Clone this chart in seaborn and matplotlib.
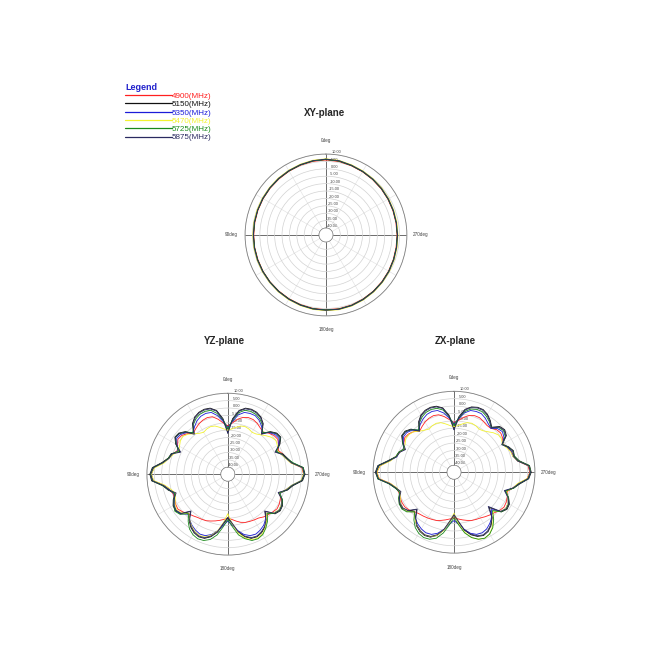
import numpy as np
import pandas as pd
import matplotlib
matplotlib.use("Agg")
import matplotlib.pyplot as plt
import seaborn as sns

# ----------------------------
# Data (gain in dBi)
# ----------------------------
freqs = ["4900(MHz)", "5150(MHz)", "5350(MHz)", "5470(MHz)", "5725(MHz)", "5875(MHz)"]
colors = ["#ff2020", "#111111", "#1c1cd8", "#f2f230", "#1a8a1a", "#2a2a60"]

xy_angles = list(range(0, 360, 10))
xy_4900 = [6.0, 5.8, 5.5, 5.1, 4.7, 4.5, 4.3, 4.2, 4.1, 4.1, 4.2, 4.2, 4.4, 4.6, 4.8, 5.1, 5.4, 5.7,
           5.8, 5.9, 5.7, 5.3, 4.9, 4.5, 4.1, 3.7, 3.4, 3.3, 3.3, 3.4, 3.6, 3.9, 4.2, 4.6, 5.1, 5.7]
xy_5150 = [6.4, 6.2, 5.8, 5.4, 5.1, 4.8, 4.6, 4.5, 4.4, 4.4, 4.4, 4.5, 4.6, 4.8, 5.1, 5.4, 5.7, 6.0,
           6.1, 6.2, 6.0, 5.6, 5.2, 4.8, 4.4, 4.0, 3.7, 3.6, 3.6, 3.7, 3.9, 4.2, 4.5, 4.9, 5.4, 6.1]
xy_5350 = [6.5, 6.3, 5.9, 5.6, 5.2, 4.9, 4.7, 4.6, 4.6, 4.6, 4.6, 4.7, 4.8, 5.0, 5.2, 5.5, 5.8, 6.1,
           6.2, 6.3, 6.1, 5.7, 5.3, 4.9, 4.5, 4.1, 3.8, 3.7, 3.7, 3.8, 4.0, 4.3, 4.6, 5.0, 5.5, 6.2]
xy_5470 = [6.8, 6.6, 6.2, 5.8, 5.5, 5.2, 5.0, 4.9, 4.8, 4.8, 4.8, 4.9, 5.0, 5.2, 5.5, 5.8, 6.1, 6.4,
           6.5, 6.6, 6.4, 6.0, 5.6, 5.2, 4.8, 4.4, 4.1, 4.0, 4.0, 4.1, 4.3, 4.6, 4.9, 5.3, 5.8, 6.5]
xy_5725 = [6.3, 6.1, 5.7, 5.3, 5.0, 4.7, 4.5, 4.4, 4.3, 4.3, 4.3, 4.4, 4.5, 4.7, 5.0, 5.3, 5.6, 5.9,
           6.0, 6.1, 5.9, 5.5, 5.1, 4.7, 4.3, 3.9, 3.6, 3.5, 3.5, 3.6, 3.8, 4.1, 4.4, 4.8, 5.3, 6.0]
xy_5875 = [6.6, 6.3, 5.9, 5.5, 5.2, 4.9, 4.7, 4.5, 4.5, 4.4, 4.5, 4.6, 4.7, 4.9, 5.2, 5.5, 5.8, 6.1,
           6.2, 6.3, 6.1, 5.7, 5.3, 4.9, 4.5, 4.1, 3.8, 3.7, 3.6, 3.8, 4.0, 4.3, 4.6, 5.0, 5.5, 6.3]

pat_angles = list(range(0, 360, 5))
yz_4900 = [-12, -10, -7, -4.5, -4, -4.5, -5.5, -7, -8.5, -6, -4, -3.5, -5.5, -7, -5, -3, 0, 5.5,
           7, 6, -1, -4, -5.5, -5, -4, -3.5, -5, -7, -8, -9, -9.5, -10, -11, -12, -13, -14,
           -15, -14, -12.5, -11, -10, -9.5, -9, -8.5, -7, -6, -5, -4, -4.5, -5.5, -7, -4, -0.5, 5.5,
           6.5, 5.5, -1, -3.5, -5, -7, -5, -3.5, -4, -5.5, -7.5, -6.5, -5, -4, -4, -5, -7, -10]
yz_5150 = [-16, -7, -1, 1.5, 2, 1.5, 0, -3, -9, -4, -1.5, -1, -4, -9, -4, -3, 0.5, 6.5,
           8, 7, 0, -3, -7, -4, -2, -1.5, -3, -9, -4, -1, 1, 2, 1.5, -1, -5, -11,
           -15, -11, -5, -1, 1.5, 2, 1, -1, -4, -9, -3, -1.5, -2, -4, -8, -3, 0, 6,
           7.5, 6.5, -0.5, -3, -5, -9, -4, -1, -1.5, -4, -9, -3, 0, 1.5, 2, 1.5, -1, -7]
yz_5350 = [-13, -9, -4.5, -1.5, -1, -1.5, -3, -5.5, -8, -5, -3, -2.5, -5, -7.5, -5, -3.5, -0.5, 5.5,
           7, 6, -1, -4, -6, -5, -3, -2, -3, -6.5, -4.5, -2.5, -1, 0, -0.5, -2.5, -6, -10,
           -13, -10, -6, -2.5, -0.5, 0, -1, -2.5, -5, -7.5, -4, -2.5, -3, -4.5, -7, -4, -1, 5,
           7, 6, -1, -4, -6, -8, -5, -2.5, -3, -5, -8, -5, -2.5, -1, -1, -1.5, -4, -9]
yz_5470 = [-15, -14, -12.5, -11, -10.5, -11, -12, -11, -9, -6.5, -5, -5.5, -7, -8, -5.5, -3.5, -1, 5,
           7, 5.5, -1.5, -5, -7, -5.5, -3.5, -2.5, -4, -7, -4.5, -2, 0, 1, 0.5, -2, -6, -12,
           -18, -11, -4.5, 0, 2.5, 3, 2, -0.5, -4, -7.5, -4, -2.5, -3, -4.5, -7.5, -4, -1, 5,
           6.5, 6, -1.5, -4, -6, -7.5, -6, -5, -6, -8, -10, -11.5, -12, -11, -10.5, -11, -12.5, -14]
yz_5725 = [-14, -8, -3, 0, 0.5, 0, -1.5, -4, -8, -4.5, -2, -1.5, -4.5, -8, -4.5, -3, 0, 6,
           7.5, 6.5, 0, -3.5, -6.5, -4.5, -2.5, -1, -2.5, -7, -3, 0.5, 2.5, 3.5, 3, 1, -3, -9,
           -14, -9, -3, 0.5, 3, 3.5, 2.5, 0, -3, -7, -3.5, -2, -2.5, -4, -7.5, -3.5, -0.5, 5.5,
           7, 6.5, 0, -3.5, -5.5, -8.5, -4.5, -1.5, -2, -4.5, -8, -4, -1.5, 0, 0.5, 0, -2.5, -8]
yz_5875 = [-17, -8, -1.5, 1, 1.5, 1, -0.5, -3.5, -9.5, -4.5, -2, -1.5, -4.5, -9.5, -4.5, -3.5, 0, 6,
           7.5, 6.5, -0.5, -3.5, -7.5, -4.5, -2.5, -2, -3.5, -9.5, -4.5, -1.5, 0.5, 1.5, 1, -1.5, -5.5, -11.5,
           -15.5, -11.5, -5.5, -1.5, 1, 1.5, 0.5, -1.5, -4.5, -9.5, -3.5, -2, -2.5, -4.5, -8.5, -3.5, -0.5, 5.5,
           7, 6, -1, -3.5, -5.5, -9.5, -4.5, -1.5, -2, -4.5, -9.5, -3.5, -0.5, 1, 1.5, 1, -1.5, -7.5]

zx_4900 = [-11, -9, -6.5, -4.5, -4, -4.5, -5.5, -7, -8.5, -6, -4.5, -4, -5.5, -7, -5.5, -4, -0.5, 5.5,
           7.5, 6, -1, -4, -5, -4.5, -4, -4, -5, -7, -8, -8.5, -9, -9.5, -10, -11, -12, -13,
           -14, -13, -12, -11, -10, -9.5, -9, -8, -7, -6, -4.5, -3.5, -4, -5, -6.5, -3.5, -0.5, 5,
           6.5, 5.5, -1, -3, -3.5, -5, -6.5, -4.5, -3.5, -4, -6, -6, -5, -4, -4, -5, -7, -9.5]
zx_5150 = [-15, -6, -0.5, 1.5, 2, 1.5, 0, -3, -8, -3.5, -1.5, -1.5, -4.5, -8, -5, -4, 0.5, 7,
           8.5, 7, 0, -3.5, -6, -3.5, -2, -2, -4, -9, -4, -0.5, 1.5, 2.5, 2, -0.5, -5, -11,
           -16, -11, -5, -1, 1.5, 2.5, 1.5, -1, -4.5, -11, -3, -1, -1.5, -4, -8, -3, 0.5, 6,
           7.5, 6.5, 0, -2.5, -2, -4, -7, -1.5, 0, -1, -5, -2, 0.5, 2, 2, 1, -1.5, -7]
zx_5350 = [-12, -8, -4, -1.5, -1, -1.5, -3, -5, -7.5, -4.5, -3, -3, -5, -7, -5.5, -4.5, -0.5, 6,
           8, 6.5, -0.5, -4, -5.5, -4, -3, -2.5, -3.5, -6.5, -4, -2, -0.5, 0.5, 0, -2, -5.5, -9.5,
           -12, -9.5, -5.5, -2, 0, 0.5, -0.5, -2.5, -5, -9, -3.5, -2, -2.5, -4.5, -7.5, -3.5, -0.5, 5.5,
           7, 6, -1, -3.5, -3.5, -5, -7, -3.5, -2, -3, -6, -4.5, -2.5, -1, -1, -1.5, -4, -8.5]
zx_5470 = [-14, -13, -11.5, -10, -9.5, -10, -11, -10, -8.5, -6, -5, -5, -6.5, -7.5, -5.5, -4, -1, 5.5,
           7.5, 6, -1, -4.5, -6, -4.5, -3, -2.5, -3.5, -6.5, -3.5, -1, 1, 2, 1.5, -0.5, -5, -11,
           -17, -10, -3.5, 1, 3.5, 4.5, 3.5, 0.5, -3.5, -7.5, -3.5, -2, -2.5, -4.5, -7, -3.5, -1, 5,
           7, 6, -1, -3.5, -4, -5.5, -7, -5.5, -5.5, -7, -9, -10.5, -11, -10, -9.5, -10, -11.5, -13]
zx_5725 = [-13, -7, -2, 0, 0.5, 0, -1.5, -4, -7.5, -4, -2, -2, -4.5, -7.5, -5, -4, 0, 6.5,
           8, 7, 0, -3.5, -5.5, -3.5, -2, -1.5, -3, -7, -2.5, 1, 3, 4, 3.5, 1.5, -3, -9,
           -14, -9, -3, 1, 3.5, 4.5, 3.5, 1, -3, -8, -3, -1.5, -2, -4, -7.5, -3, 0, 5.5,
           7, 6.5, -0.5, -2.5, -2.5, -4.5, -7, -2.5, -1, -2, -5.5, -3, -1, 0.5, 0.5, -0.5, -3, -8]
zx_5875 = [-16, -7, -1, 1, 1.5, 1, -0.5, -3.5, -8.5, -4, -2, -2, -5, -8.5, -5.5, -4.5, 0, 6.5,
           8, 6.5, -0.5, -4, -6.5, -4, -2.5, -2.5, -4.5, -9.5, -4.5, -1, 1, 2, 1.5, -1, -5.5, -11.5,
           -16, -11.5, -5.5, -1.5, 1, 2, 1, -1.5, -5, -12, -3.5, -1.5, -2, -4.5, -8.5, -3.5, 0, 5.5,
           7, 6, -1, -3, -2.5, -4.5, -7.5, -2, -0.5, -1.5, -5.5, -2.5, 0, 1.5, 1.5, 0.5, -2, -8]

planes = [
    ("XY-plane", xy_angles, [xy_4900, xy_5150, xy_5350, xy_5470, xy_5725, xy_5875]),
    ("YZ-plane", pat_angles, [yz_4900, yz_5150, yz_5350, yz_5470, yz_5725, yz_5875]),
    ("ZX-plane", pat_angles, [zx_4900, zx_5150, zx_5350, zx_5470, zx_5725, zx_5875]),
]

# axes boxes (left, bottom, size) and title positions in figure coords
boxes = [[0.377, 0.514, 0.249, 0.249], [0.226, 0.146, 0.249, 0.249], [0.574, 0.149, 0.249, 0.249]]
title_pos = [(0.500, 0.826), (0.346, 0.475), (0.700, 0.475)]

sns.set_theme(style="white")
plt.rcParams["font.family"] = ["Liberation Sans", "DejaVu Sans"]

fig = plt.figure(figsize=(6.5, 6.5), dpi=100)
palette = dict(zip(freqs, colors))

for (name, angles, series), box, tpos in zip(planes, boxes, title_pos):
    rows = []
    for f, vals in zip(freqs, series):
        # close the curve by repeating the first sample at 360 deg
        for a, v in list(zip(angles, vals)) + [(360, vals[0])]:
            rows.append({"freq": f, "theta": np.deg2rad(a), "gain": v})
    df = pd.DataFrame(rows)

    ax = fig.add_axes(box, projection="polar")
    sns.lineplot(data=df, x="theta", y="gain", hue="freq", palette=palette, sort=False,
                 estimator=None, units="freq", ax=ax, legend=False, lw=0.6)
    ax.set_xlabel("")
    ax.set_ylabel("")
    ax.set_theta_zero_location("N")
    ax.set_theta_direction(1)
    ax.set_rlim(-40, 10)
    ax.set_rorigin(-44.7)

    rt = list(range(-40, 11, 5))
    ax.set_rgrids(rt, labels=[f"{v:.2f}" for v in rt], angle=356, fontsize=2.8, color="#444444")
    ax.set_thetagrids(range(0, 360, 30),
                      labels=["0deg", "", "", "90deg", "", "", "180deg", "", "", "270deg", "", ""],
                      fontsize=3.3, color="#444444")
    ax.tick_params(axis="x", pad=-3)
    for gl in ax.yaxis.get_gridlines():
        gl.set_color("#d2d2d2")
        gl.set_linewidth(0.5)
    ax.yaxis.get_gridlines()[0].set_color("#707070")
    ax.yaxis.get_gridlines()[0].set_linewidth(0.5)
    for i, gl in enumerate(ax.xaxis.get_gridlines()):
        if i % 3 == 0:
            gl.set_color("#555555")
            gl.set_linewidth(0.6)
        else:
            gl.set_color("#e0e0e0")
            gl.set_linewidth(0.4)
    ax.spines["polar"].set_color("#808080")
    ax.spines["polar"].set_linewidth(0.6)
    ax.spines["inner"].set_color("#808080")
    ax.spines["inner"].set_linewidth(0.4)
    ax.grid(True)

    fig.text(tpos[0], tpos[1], name, ha="center", va="center", fontsize=7, fontweight="bold")

# legend in the upper left corner
handles = [plt.Line2D([], [], color=c, lw=0.9) for c in colors]
leg = fig.legend(handles, freqs, loc="upper left", bbox_to_anchor=(0.186, 0.879), frameon=False,
                 fontsize=5.8, handlelength=5.8, handletextpad=0.0, labelspacing=0.08,
                 borderpad=0, title="Legend", alignment="left")
leg.get_title().set_color("#2222cc")
leg.get_title().set_fontweight("bold")
leg.get_title().set_fontsize(6.5)
for txt, c in zip(leg.get_texts(), colors):
    txt.set_color(c)

fig.savefig("out.png", dpi=100)
